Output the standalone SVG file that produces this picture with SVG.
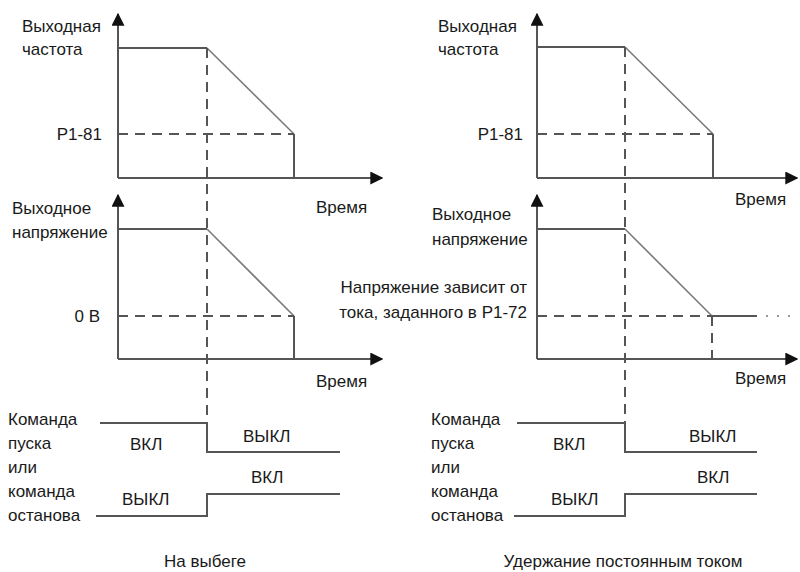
<svg xmlns="http://www.w3.org/2000/svg" width="800" height="572" viewBox="0 0 800 572">
<style>
text{font-family:"Liberation Sans",Arial,sans-serif;font-size:17px;fill:#1a1a1a}
.ax{stroke:#555;stroke-width:2;fill:none}
.ln{stroke:#555;stroke-width:2;fill:none}
.sl{stroke:#7a7a7a;stroke-width:1.6;fill:none}
.ds{stroke:#555;stroke-width:2;fill:none;stroke-dasharray:10 7}
.dt{stroke:#999;stroke-width:2;fill:none;stroke-dasharray:2 9}
.r{text-anchor:end}
.m{text-anchor:middle}
</style>
<defs>
<marker id="ar" viewBox="0 0 10 10" refX="9" refY="5" markerWidth="6.5" markerHeight="6.5" orient="auto" markerUnits="strokeWidth">
<path d="M0,0L10,5L0,10z" fill="#111"/>
</marker>
</defs>
<rect width="800" height="572" fill="#fff"/>

<g id="left-freq">
<path class="ax" d="M118,178V14" marker-end="url(#ar)"/>
<path class="ax" d="M118,178H382" marker-end="url(#ar)"/>
<path class="ln" d="M118,48H207"/>
<path class="sl" d="M207,48L294,134"/>
<path class="ln" d="M294,134V178"/>
<path class="ds" d="M118,134H294"/>
<text x="22" y="32">Выходная</text>
<text x="22" y="55">частота</text>
<text class="r" x="102" y="140">P1-81</text>
<text x="316" y="213">Время</text>
</g>

<g id="left-volt">
<path class="ax" d="M118,359V195" marker-end="url(#ar)"/>
<path class="ax" d="M118,359H382" marker-end="url(#ar)"/>
<path class="ln" d="M118,229H207"/>
<path class="sl" d="M207,229L294,316"/>
<path class="ln" d="M294,316V359"/>
<path class="ds" d="M118,316H294"/>
<text x="12" y="214">Выходное</text>
<text x="12" y="238">напряжение</text>
<text class="r" x="100" y="322">0 В</text>
<text x="316" y="387">Время</text>
</g>

<g id="left-cmd">
<path class="ln" d="M100,423H207V452H340"/>
<path class="ln" d="M96,516H207V494H340"/>
<text x="130" y="450">ВКЛ</text>
<text x="243" y="442">ВЫКЛ</text>
<text x="122" y="505">ВЫКЛ</text>
<text x="251" y="483">ВКЛ</text>
<text x="8" y="425">Команда</text>
<text x="8" y="449">пуска</text>
<text x="8" y="473">или</text>
<text x="8" y="497">команда</text>
<text x="8" y="521">останова</text>
<text class="m" x="205" y="567">На выбеге</text>
</g>

<g id="right-freq">
<path class="ax" d="M537,178V14" marker-end="url(#ar)"/>
<path class="ax" d="M537,178H797" marker-end="url(#ar)"/>
<path class="ln" d="M537,47H625"/>
<path class="sl" d="M625,47L713,134"/>
<path class="ln" d="M713,134V178"/>
<path class="ds" d="M537,134H713"/>
<text x="438" y="32">Выходная</text>
<text x="438" y="55">частота</text>
<text class="r" x="523" y="140">P1-81</text>
<text x="735" y="205">Время</text>
</g>

<g id="right-volt">
<path class="ax" d="M537,359V195" marker-end="url(#ar)"/>
<path class="ax" d="M537,359H797" marker-end="url(#ar)"/>
<path class="ln" d="M537,229H625"/>
<path class="sl" d="M625,229L712,316"/>
<path class="ln" d="M712,316H757"/>
<path class="dt" d="M766,316H792"/>
<path class="ds" d="M537,316H712"/>
<path class="ds" d="M712,316V359"/>
<text x="432" y="220">Выходное</text>
<text x="432" y="245">напряжение</text>
<text class="r" x="527" y="293">Напряжение зависит от</text>
<text class="r" x="527" y="318">тока, заданного в P1-72</text>
<text x="735" y="384">Время</text>
</g>

<g id="right-cmd">
<path class="ln" d="M517,423H625V452H757"/>
<path class="ln" d="M514,516H625V494H757"/>
<text x="553" y="450">ВКЛ</text>
<text x="689" y="442">ВЫКЛ</text>
<text x="551" y="505">ВЫКЛ</text>
<text x="697" y="483">ВКЛ</text>
<text x="431" y="425">Команда</text>
<text x="431" y="449">пуска</text>
<text x="431" y="473">или</text>
<text x="431" y="497">команда</text>
<text x="431" y="521">останова</text>
<text class="m" x="623" y="567">Удержание постоянным током</text>
</g>

<g id="connectors">
<path class="ds" d="M207,48V423"/>
<path class="ds" d="M625,47V423"/>
</g>
</svg>
